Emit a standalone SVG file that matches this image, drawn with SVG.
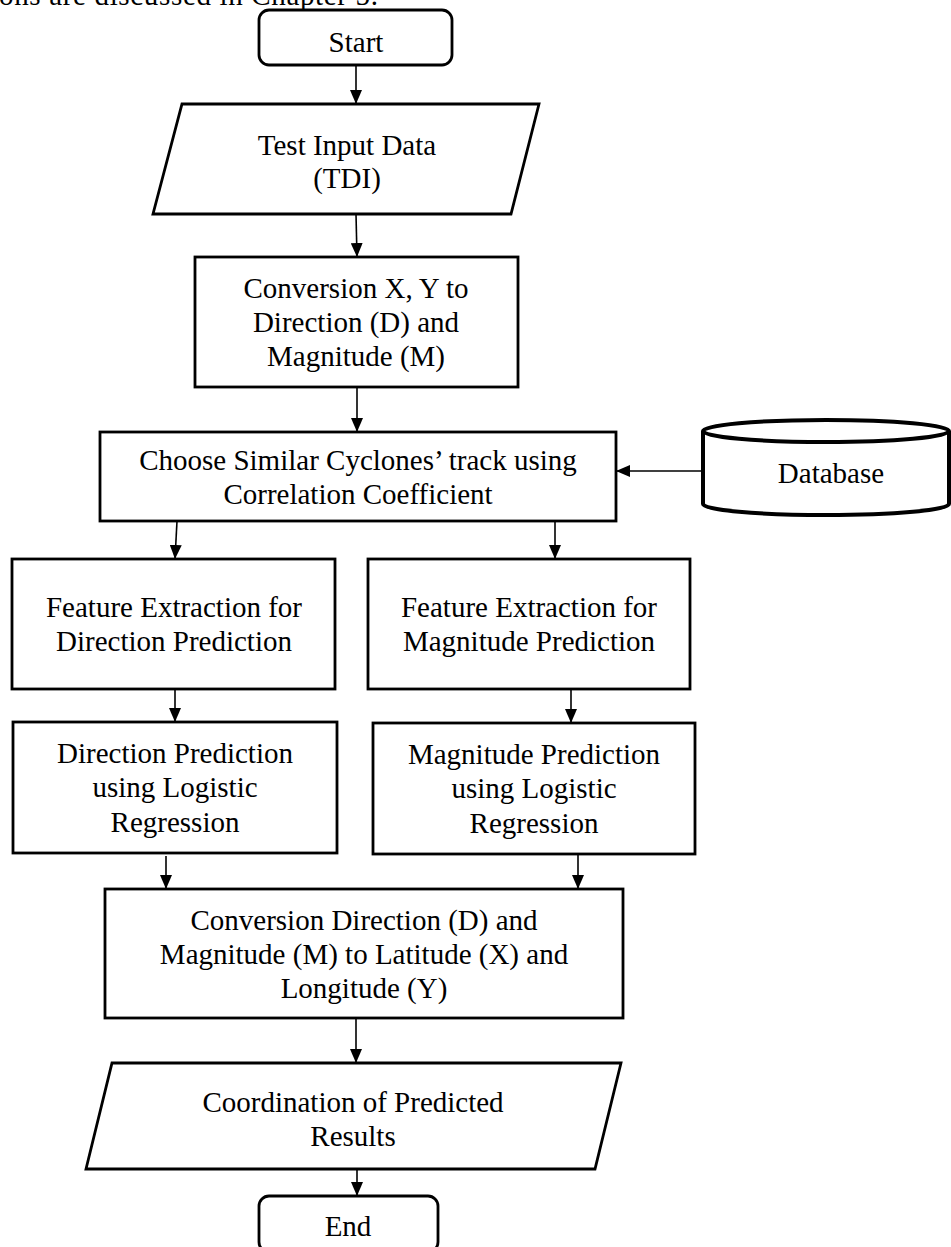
<svg xmlns="http://www.w3.org/2000/svg" width="951" height="1247" viewBox="0 0 951 1247">
  <style>
    .box { fill: #fff; stroke: #000; stroke-width: 2.8; }
    .db { fill: #fff; stroke: #000; stroke-width: 4; }
    .lbl { font-family: "Liberation Serif", "Times New Roman", serif; font-size: 29px; fill: #000; text-anchor: middle; }
    .edge { fill: none; stroke: #000; stroke-width: 1.6; marker-end: url(#arrow); }
  </style>
  <defs>
    <marker id="arrow" viewBox="0 0 14 12" refX="14" refY="6" markerWidth="14" markerHeight="12" markerUnits="userSpaceOnUse" orient="auto">
      <path d="M0,0 L14,6 L0,12 Z" fill="#000"/>
    </marker>
  </defs>
  <rect width="951" height="1247" fill="#fff"/>

  <!-- running text line above the chart -->
  <text x="-1" y="5" font-family="Liberation Serif, Times New Roman, serif" font-size="29" textLength="379" lengthAdjust="spacing">ons are discussed in Chapter 5.</text>

  <g id="connectors">
    <line class="edge" x1="356" y1="65" x2="356" y2="104"/>
    <line class="edge" x1="356" y1="214" x2="357" y2="257"/>
    <line class="edge" x1="357" y1="387" x2="357" y2="432"/>
    <line class="edge" x1="703" y1="471" x2="616" y2="471"/>
    <line class="edge" x1="177" y1="521" x2="175" y2="559"/>
    <line class="edge" x1="555" y1="521" x2="555" y2="559"/>
    <line class="edge" x1="175" y1="687" x2="175" y2="722"/>
    <line class="edge" x1="571" y1="689" x2="571" y2="723"/>
    <line class="edge" x1="166" y1="856" x2="166" y2="889"/>
    <line class="edge" x1="578" y1="854" x2="578" y2="889"/>
    <line class="edge" x1="356" y1="1018" x2="356" y2="1063"/>
    <line class="edge" x1="357" y1="1169" x2="357" y2="1196"/>
  </g>

  <g id="start">
    <rect class="box" x="259" y="10" width="193" height="55" rx="10"/>
    <text class="lbl" x="356" y="52">Start</text>
  </g>

  <g id="test-input">
    <polygon class="box" points="182,104 539,104 511,214 153,214"/>
    <text class="lbl" x="347" y="155">Test Input Data</text>
    <text class="lbl" x="347" y="188">(TDI)</text>
  </g>

  <g id="conversion-xy">
    <rect class="box" x="195" y="257" width="323" height="130"/>
    <text class="lbl" x="356" y="298">Conversion X, Y to</text>
    <text class="lbl" x="356" y="332">Direction (D) and</text>
    <text class="lbl" x="356" y="366">Magnitude (M)</text>
  </g>

  <g id="choose-similar">
    <rect class="box" x="100" y="432" width="516" height="89"/>
    <text class="lbl" x="358" y="470">Choose Similar Cyclones’ track using</text>
    <text class="lbl" x="358" y="504">Correlation Coefficient</text>
  </g>

  <g id="database">
    <path class="db" d="M703,431 L703,504 A123,11 0 0 0 949,504 L949,431"/>
    <ellipse class="db" cx="826" cy="431" rx="123" ry="11"/>
    <text class="lbl" x="831" y="483">Database</text>
  </g>

  <g id="feature-direction">
    <rect class="box" x="12" y="559" width="323" height="130"/>
    <text class="lbl" x="174" y="617">Feature Extraction for</text>
    <text class="lbl" x="174" y="651">Direction Prediction</text>
  </g>

  <g id="feature-magnitude">
    <rect class="box" x="368" y="559" width="322" height="130"/>
    <text class="lbl" x="529" y="617">Feature Extraction for</text>
    <text class="lbl" x="529" y="651">Magnitude Prediction</text>
  </g>

  <g id="direction-prediction">
    <rect class="box" x="13" y="722" width="324" height="131"/>
    <text class="lbl" x="175" y="763">Direction Prediction</text>
    <text class="lbl" x="175" y="797">using Logistic</text>
    <text class="lbl" x="175" y="832">Regression</text>
  </g>

  <g id="magnitude-prediction">
    <rect class="box" x="373" y="723" width="322" height="131"/>
    <text class="lbl" x="534" y="764">Magnitude Prediction</text>
    <text class="lbl" x="534" y="798">using Logistic</text>
    <text class="lbl" x="534" y="833">Regression</text>
  </g>

  <g id="conversion-latlon">
    <rect class="box" x="105" y="889" width="518" height="129"/>
    <text class="lbl" x="364" y="930">Conversion Direction (D) and</text>
    <text class="lbl" x="364" y="964">Magnitude (M) to Latitude (X) and</text>
    <text class="lbl" x="364" y="998">Longitude (Y)</text>
  </g>

  <g id="coordination">
    <polygon class="box" points="112,1063 621,1063 595,1169 86,1169"/>
    <text class="lbl" x="353" y="1112">Coordination of Predicted</text>
    <text class="lbl" x="353" y="1146">Results</text>
  </g>

  <g id="end">
    <rect class="box" x="259" y="1196" width="179" height="56" rx="10"/>
    <text class="lbl" x="348" y="1236">End</text>
  </g>
</svg>
